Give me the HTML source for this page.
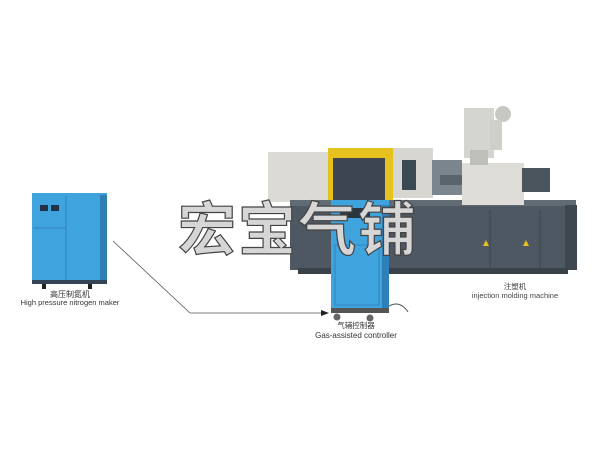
<!DOCTYPE html>
<html><head><meta charset="utf-8"><style>
html,body{margin:0;padding:0;background:#fff;}
svg{display:block;}
</style></head><body>
<svg width="600" height="450" viewBox="0 0 600 450" xmlns="http://www.w3.org/2000/svg" font-family="Liberation Sans, Noto Sans CJK SC, sans-serif">
<rect width="600" height="450" fill="#fff"/>
<!-- nitrogen maker -->
<rect x="32" y="193" width="75" height="90" fill="#3fa3de"/>
<rect x="100" y="195" width="7" height="88" fill="#2f7fb5"/>
<line x1="66" y1="196" x2="66" y2="282" stroke="#2f86c0" stroke-width="1"/>
<line x1="33" y1="228" x2="66" y2="228" stroke="#2f86c0"/>
<rect x="40" y="205" width="8" height="6" fill="#234"/><rect x="51" y="205" width="8" height="6" fill="#234"/>
<rect x="32" y="280" width="75" height="4" fill="#345"/>
<rect x="42" y="284" width="4" height="5" fill="#222"/><rect x="88" y="284" width="4" height="5" fill="#222"/>
<text x="70" y="297" font-size="8" text-anchor="middle" fill="#333">高压制氮机</text>
<text x="70" y="305" font-size="7.5" text-anchor="middle" fill="#333">High pressure nitrogen maker</text>
<!-- connector -->
<polyline points="113,241 190,313 322,313" fill="none" stroke="#555" stroke-width="0.8"/>
<polygon points="329,313 321,310 321,316" fill="#222"/>
<!-- machine -->
<rect x="268" y="152" width="62" height="50" fill="#dcdad5"/>
<rect x="290" y="200" width="286" height="70" fill="#4d5862"/>
<rect x="290" y="200" width="286" height="6" fill="#606b74"/>
<rect x="565" y="205" width="12" height="65" fill="#3e474f"/>
<rect x="298" y="268" width="270" height="6" fill="#3a4249"/>
<line x1="490" y1="210" x2="490" y2="268" stroke="#3a434a"/>
<line x1="540" y1="210" x2="540" y2="268" stroke="#3a434a"/>
<polygon points="486,240 483,246 489,246" fill="#e8c020"/>
<polygon points="526,240 523,246 529,246" fill="#e8c020"/>
<rect x="328" y="148" width="65" height="52" fill="#e6c21e"/>
<rect x="333" y="158" width="52" height="42" fill="#3d4650"/>
<rect x="393" y="148" width="40" height="50" fill="#d8d6d0"/>
<rect x="402" y="160" width="14" height="30" fill="#3a4a55"/>
<rect x="432" y="160" width="30" height="35" fill="#7a858e"/>
<rect x="440" y="175" width="40" height="10" fill="#5a646c"/>
<rect x="462" y="163" width="62" height="42" fill="#dedcd7"/>
<rect x="522" y="168" width="28" height="24" fill="#4b555e"/>
<rect x="464" y="108" width="30" height="50" fill="#d5d5d0"/>
<rect x="470" y="150" width="18" height="15" fill="#bfbfba"/>
<circle cx="503" cy="114" r="8" fill="#c8c8c3"/>
<rect x="490" y="120" width="12" height="30" fill="#cfcfca"/>
<text x="515" y="289" font-size="7.5" text-anchor="middle" fill="#444">注塑机</text>
<text x="515" y="298" font-size="7.5" text-anchor="middle" fill="#444">injection molding machine</text>
<!-- controller -->
<rect x="331" y="200" width="58" height="110" fill="#3fa3de"/>
<rect x="382" y="205" width="7" height="105" fill="#2f80b8"/>
<rect x="335" y="245" width="44" height="60" fill="none" stroke="#2f86c0"/>
<rect x="340" y="208" width="30" height="10" fill="#2a3540"/>
<rect x="331" y="308" width="58" height="5" fill="#555"/>
<circle cx="337" cy="317" r="3.5" fill="#666"/><circle cx="370" cy="318" r="3.5" fill="#666"/>
<path d="M389 306 Q400 300 408 312" fill="none" stroke="#555"/>
<text x="356" y="328" font-size="7.5" text-anchor="middle" fill="#333">气辅控制器</text>
<text x="356" y="338" font-size="8" text-anchor="middle" fill="#333">Gas-assisted controller</text>
<!-- watermark -->
<text x="178" y="250" font-size="58" font-weight="bold" fill="#d6d6d6" stroke="#444" stroke-width="1.2" letter-spacing="2" font-family="Noto Sans CJK SC, sans-serif">宏宝气铺</text>
</svg>
</body></html>
